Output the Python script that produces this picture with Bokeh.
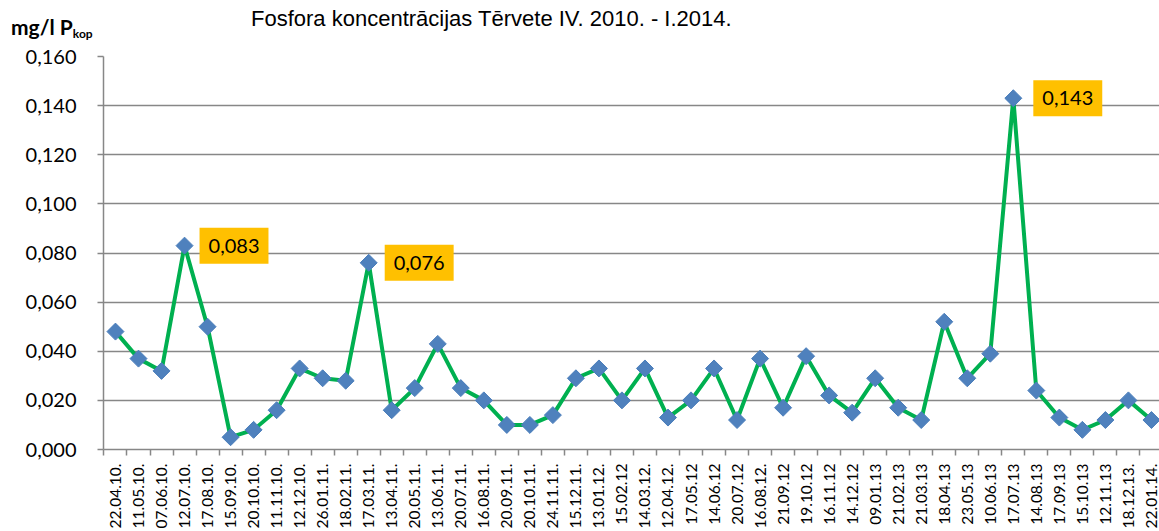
import math
from bokeh.plotting import figure
from bokeh.layouts import column
from bokeh.models import FixedTicker, Label, Range1d, CustomJSTickFormatter, ColumnDataSource, Div
from bokeh.embed import file_html
from bokeh.resources import INLINE

dates = ["22.04.10.", "11.05.10.", "07.06.10.", "12.07.10.", "17.08.10.", "15.09.10.",
         "20.10.10.", "11.11.10.", "12.12.10.", "26.01.11.", "18.02.11.", "17.03.11.",
         "13.04.11.", "20.05.11.", "13.06.11.", "20.07.11.", "16.08.11.", "20.09.11.",
         "20.10.11.", "24.11.11.", "15.12.11.", "13.01.12.", "15.02.12", "14.03.12.",
         "12.04.12.", "17.05.12", "14.06.12", "20.07.12", "16.08.12.", "21.09.12",
         "19.10.12", "16.11.12", "14.12.12", "09.01.13", "21.02.13", "21.03.13",
         "18.04.13", "23.05.13", "10.06.13", "17.07.13", "14.08.13", "17.09.13",
         "15.10.13", "12.11.13", "18.12.13.", "22.01.14."]
p_total = [0.048, 0.037, 0.032, 0.083, 0.050, 0.005, 0.008, 0.016, 0.033, 0.029,
           0.028, 0.076, 0.016, 0.025, 0.043, 0.025, 0.020, 0.010, 0.010, 0.014,
           0.029, 0.033, 0.020, 0.033, 0.013, 0.020, 0.033, 0.012, 0.037, 0.017,
           0.038, 0.022, 0.015, 0.029, 0.017, 0.012, 0.052, 0.029, 0.039, 0.143,
           0.024, 0.013, 0.008, 0.012, 0.020, 0.012]
y_ticks = [0.0, 0.02, 0.04, 0.06, 0.08, 0.10, 0.12, 0.14, 0.16]
highlight_idx = [3, 11, 39]
highlight_text = ["0,083", "0,076", "0,143"]

title_text = "Fosfora koncentrācijas Tērvete IV. 2010. - I.2014."
unit_main = "mg/l P"
unit_sub = "kop"

src = ColumnDataSource(dict(x=list(range(len(dates))), y=p_total))

header_html = (
    '<div style="position:relative;width:1159px;height:44px;">'
    '<span style="position:absolute;left:11px;top:16px;white-space:nowrap;'
    'font-family:Lato;font-weight:bold;font-size:21px;line-height:21px;color:black;">'
    + unit_main +
    '<span style="font-size:12px;position:relative;top:3px;">' + unit_sub + '</span></span>'
    '<span style="position:absolute;left:251px;top:8px;white-space:nowrap;'
    "font-family:'Liberation Sans',Arial,sans-serif;font-size:22px;line-height:22px;color:black;\">"
    + title_text + '</span></div>'
)
header = Div(text=header_html, width=1159, height=44, margin=0)

p = figure(width=1159, height=487, x_range=Range1d(-0.52, 45.35), y_range=Range1d(0, 0.16),
           output_backend="svg", toolbar_location=None, margin=0,
           min_border_left=103, min_border_right=0, min_border_top=12, min_border_bottom=82)
p.outline_line_color = None
p.background_fill_color = "white"

grey = "#878787"
p.xgrid.visible = False
p.ygrid.grid_line_color = grey
p.ygrid.grid_line_width = 1.5

p.xaxis.ticker = FixedTicker(ticks=list(range(len(dates))),
                             minor_ticks=[i - 0.5 for i in range(len(dates) + 1)])
p.xaxis.formatter = CustomJSTickFormatter(args=dict(labels=dates),
                                          code="const i = Math.round(tick); return labels[i] ?? '';")
p.xaxis.major_label_orientation = math.pi / 2
p.xaxis.major_tick_out = 0
p.xaxis.major_tick_in = 0
p.xaxis.minor_tick_out = 6
p.xaxis.minor_tick_in = 0
p.xaxis.minor_tick_line_color = grey
p.xaxis.minor_tick_line_width = 1.5
p.xaxis.major_label_standoff = 8
p.xaxis.major_label_text_font = "Lato"
p.xaxis.major_label_text_font_size = "15.5px"
p.xaxis.major_label_text_color = "black"

p.yaxis.ticker = FixedTicker(ticks=y_ticks, minor_ticks=[])
p.yaxis.formatter = CustomJSTickFormatter(code="return tick.toFixed(3).replace('.', ',');")
p.yaxis.major_tick_out = 6
p.yaxis.major_tick_in = 0
p.yaxis.minor_tick_out = 0
p.yaxis.minor_tick_in = 0
p.yaxis.major_tick_line_color = grey
p.yaxis.major_tick_line_width = 1.5
p.yaxis.major_label_standoff = 21
p.yaxis.major_label_text_font = "Lato"
p.yaxis.major_label_text_font_size = "20px"
p.yaxis.major_label_text_color = "black"

for ax in (p.xaxis, p.yaxis):
    ax.axis_line_color = grey
    ax.axis_line_width = 1.5

p.line("x", "y", source=src, line_color="#00B050", line_width=4)
p.scatter("x", "y", source=src, marker="square", size=12, angle=math.pi / 4,
          fill_color="#4F81BD", line_color="#4A7EBB", line_width=1)

offsets = [15, 16, 20]
for i, t, off in zip(highlight_idx, highlight_text, offsets):
    p.add_layout(Label(x=i, y=p_total[i], text=t, x_offset=off, y_offset=0,
                       text_align="left", text_baseline="middle",
                       text_font="Lato", text_font_size="20px", text_color="black",
                       background_fill_color="#FFC000", padding=(9, 11)))

layout = column(header, p, spacing=0, margin=0)
open("out.html", "w").write(file_html(layout, INLINE))
